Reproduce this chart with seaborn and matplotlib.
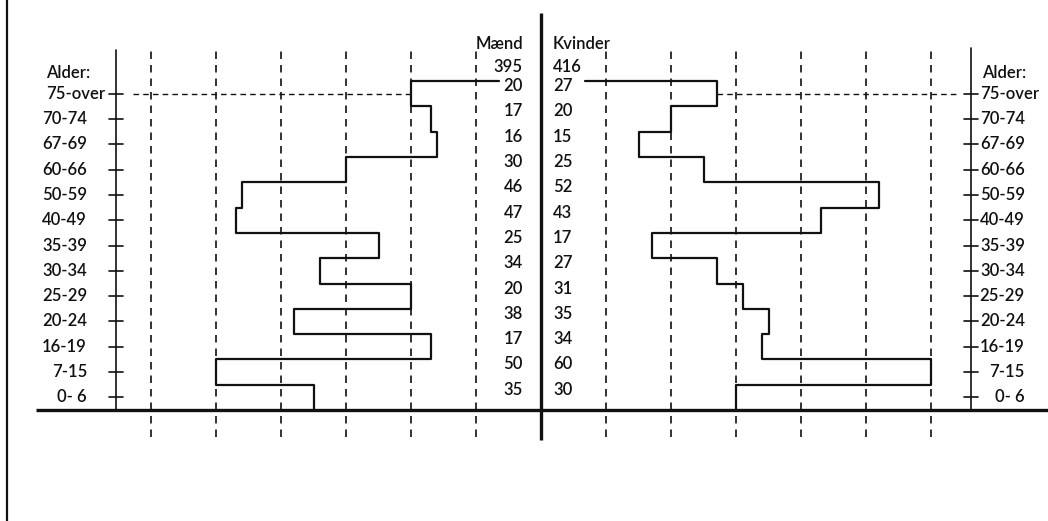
import matplotlib
matplotlib.use("Agg")
import matplotlib.pyplot as plt
import seaborn as sns
import numpy as np
import pandas as pd

# ---------------- data ----------------
age_groups = ["0- 6", "7-15", "16-19", "20-24", "25-29", "30-34", "35-39",
              "40-49", "50-59", "60-66", "67-69", "70-74", "75-over"]
maend = [35, 50, 17, 38, 20, 34, 25, 47, 46, 30, 16, 17, 20]
kvinder = [30, 60, 34, 35, 31, 27, 17, 43, 52, 25, 15, 20, 27]
grid_values = [10, 20, 30, 40, 50, 60]
header_men = "Mænd"
header_women = "Kvinder"
axis_title = "Alder:"

sns.set_theme(style="white")
plt.rcParams["font.family"] = ["Lato", "DejaVu Sans"]
plt.rcParams["font.weight"] = "semibold"

W, H, DPI = 1048, 521, 100
fig = plt.figure(figsize=(W / DPI, H / DPI), dpi=DPI)
ax = fig.add_axes([0, 0, 1, 1])

# scale: 6.5 px per person, 25.3 px per age row, centre at x=541, baseline at y=410
PXX, PXY, CX, BY = 6.5, 25.3, 541, 410
ax.set_xlim(-CX / PXX, (W - CX) / PXX)
ax.set_ylim(-(H - BY) / PXY, BY / PXY)
ax.axis("off")

n = len(age_groups)
FS = 12
INK = "#111111"

# ---- step outlines (built from the data) ----
def step_path(vals, sign, top_end):
    xs, ys = [], []
    for i, v in enumerate(vals):
        xs += [sign * v, sign * v]
        ys += [i, i + 1]
    xs.append(sign * top_end)
    ys.append(n)
    return pd.DataFrame({"x": xs, "y": ys})

men_df = step_path(maend, -1, 6.46)
wom_df = step_path(kvinder, 1, 6.77)
for df in (men_df, wom_df):
    sns.lineplot(data=df, x="x", y="y", sort=False, estimator=None,
                 color=INK, lw=1.6, ax=ax, legend=False)

# ---- dashed vertical grid ----
dash = (0, (4.5, 3.6))
for g in grid_values:
    for s in (-1, 1):
        ax.plot([s * g, s * g], [-1.07, 14.3], color=INK, lw=1.2, ls=dash)

# ---- centre line and baseline ----
ax.plot([0, 0], [-1.19, 15.7], color=INK, lw=2.4, solid_capstyle="butt")
ax.plot([(36 - CX) / PXX, (W - CX) / PXX], [0, 0], color=INK, lw=2.4,
        solid_capstyle="butt")
# left border
ax.plot([(7 - CX) / PXX] * 2, [-(H - BY) / PXY, BY / PXY], color=INK, lw=1.6)

# ---- age axes ----
centers = np.arange(n) + 0.5
lx, rx = (116 - CX) / PXX, (971 - CX) / PXX
tick = 1.1
ax.plot([lx, lx], [0, 14.23], color=INK, lw=1.2)
ax.plot([rx, rx], [0, 14.3], color=INK, lw=1.2)
for c in centers:
    ax.plot([lx - tick, lx + tick], [c, c], color=INK, lw=1.2)
    ax.plot([rx - tick, rx + tick], [c, c], color=INK, lw=1.2)

# dashed reference line at 75-over
ax.plot([(133 - CX) / PXX, -maend[-1]], [centers[-1]] * 2, color=INK, lw=1.0,
        ls=(0, (4, 3)))
ax.plot([kvinder[-1], (960 - CX) / PXX], [centers[-1]] * 2, color=INK, lw=1.0,
        ls=(0, (4, 3)))

# labels
l_right, l_left = (87 - CX) / PXX, (46 - CX) / PXX
r_right, r_left = (1025 - CX) / PXX, (980 - CX) / PXX
for i, lab in enumerate(age_groups):
    if lab == "75-over":
        ax.text(l_left, centers[i], lab, ha="left", va="center", fontsize=FS, color=INK)
        ax.text(r_left, centers[i], lab, ha="left", va="center", fontsize=FS, color=INK)
    else:
        ax.text(l_right, centers[i], lab, ha="right", va="center", fontsize=FS, color=INK)
        ax.text(r_right, centers[i], lab, ha="right", va="center", fontsize=FS, color=INK)
ay = (BY - 73) / PXY
ax.text(l_left, ay, axis_title, ha="left", va="center", fontsize=FS, color=INK)
ax.text((982 - CX) / PXX, ay, axis_title, ha="left", va="center", fontsize=FS, color=INK)

# ---- centre numbers ----
mx, wx = (523 - CX) / PXX, (553 - CX) / PXX
for i in range(n):
    yy = centers[i] + 0.3
    ax.text(mx, yy, str(maend[i]), ha="right", va="center", fontsize=FS, color=INK)
    ax.text(wx, yy, str(kvinder[i]), ha="left", va="center", fontsize=FS, color=INK)

hy = (BY - 44) / PXY
ty = (BY - 67) / PXY
ax.text(mx, hy, header_men, ha="right", va="center", fontsize=FS, color=INK)
ax.text(wx, hy, header_women, ha="left", va="center", fontsize=FS, color=INK)
ax.text(mx, ty, str(sum(maend)), ha="right", va="center", fontsize=FS, color=INK)
ax.text(wx, ty, str(sum(kvinder)), ha="left", va="center", fontsize=FS, color=INK)

fig.savefig("out.png", dpi=DPI, facecolor="white")
